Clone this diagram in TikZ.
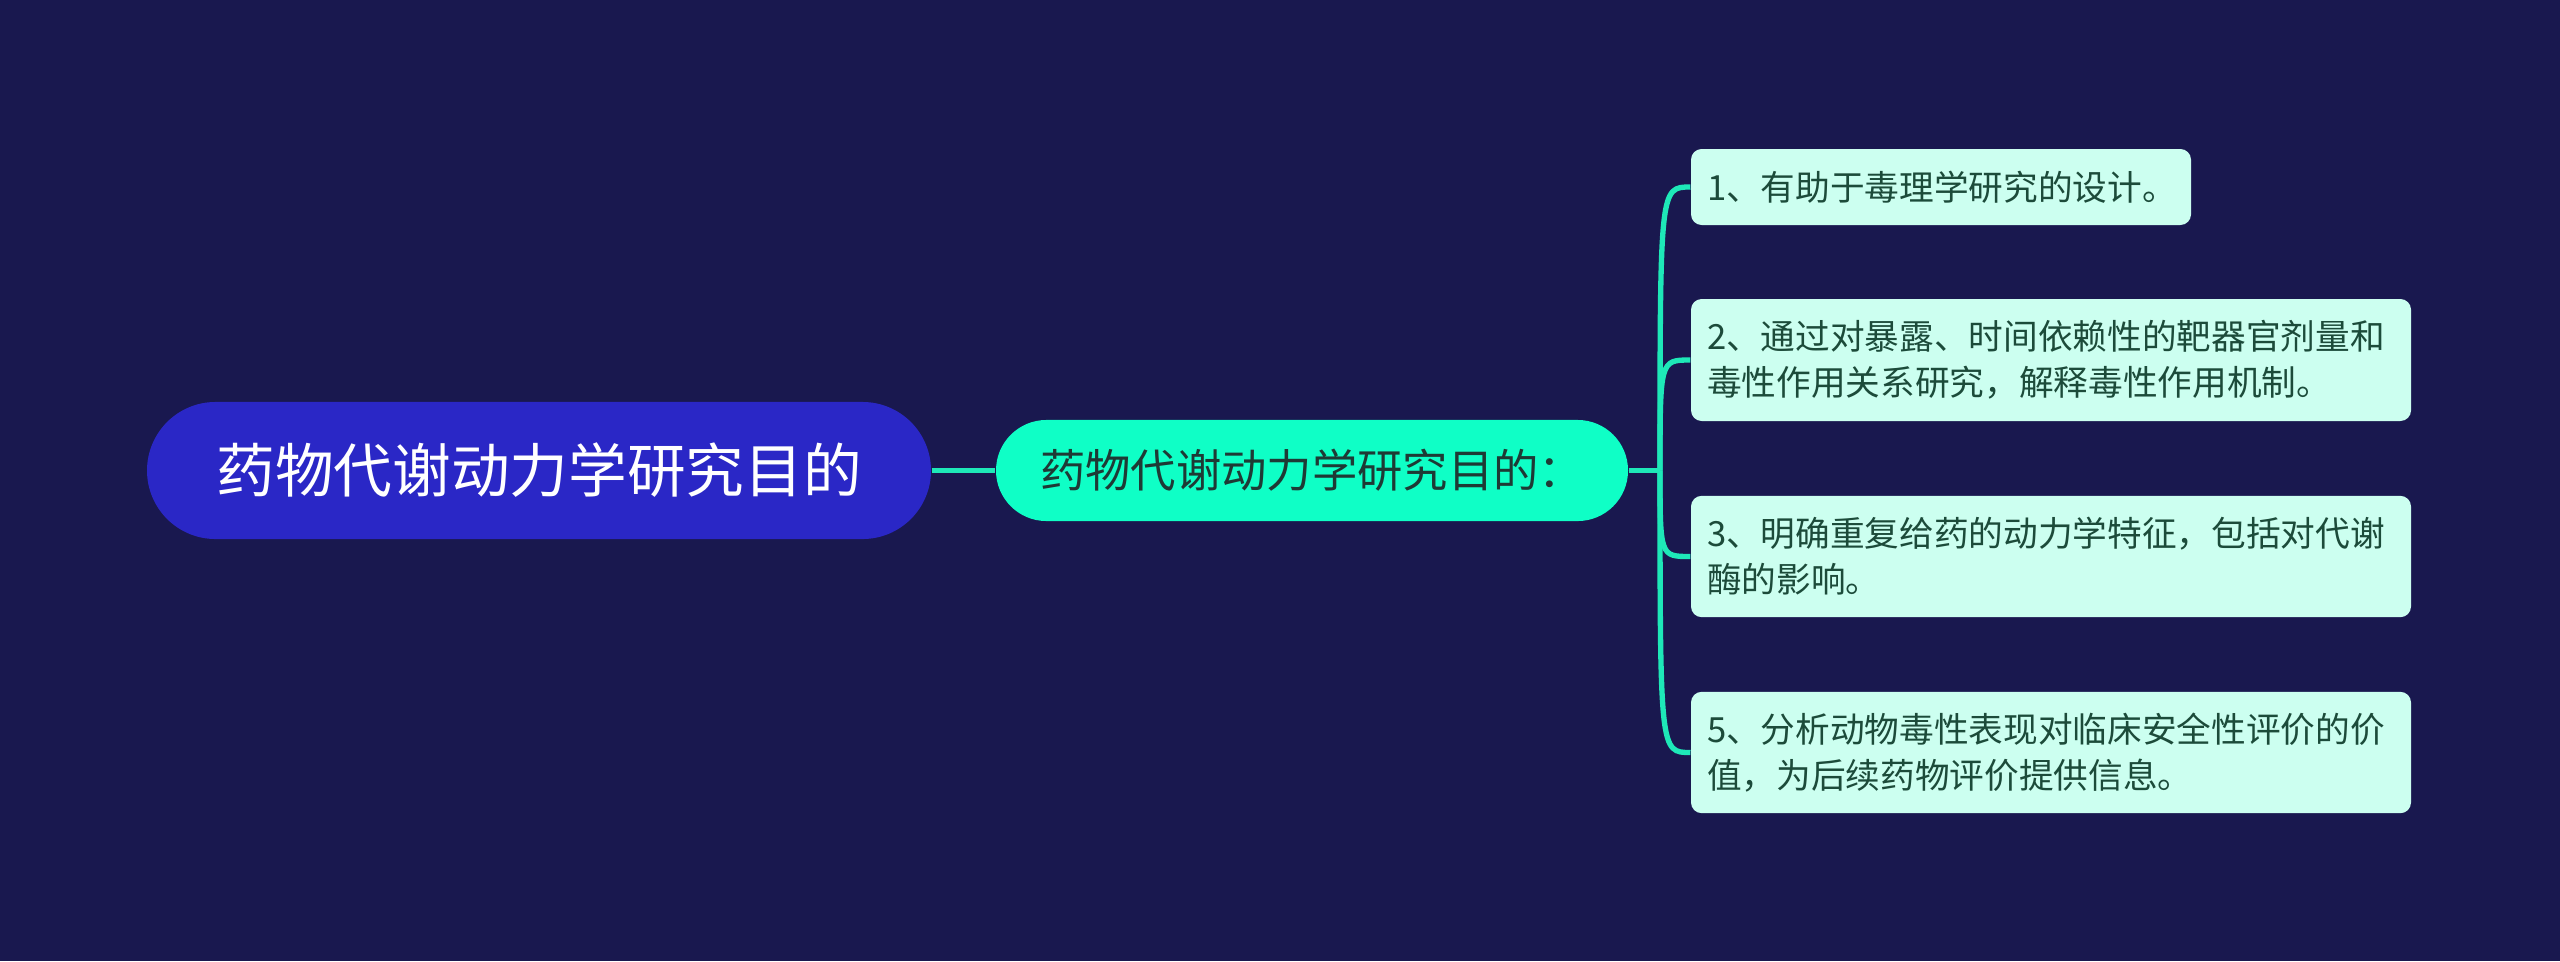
\documentclass[tikz,border=0pt]{standalone}
\usepackage{fontspec}
\setmainfont{Noto Sans CJK SC}
\definecolor{bgc}{HTML}{19184F}
\definecolor{rootc}{HTML}{2A27C6}
\definecolor{midc}{HTML}{0FFFC6}
\definecolor{leafc}{HTML}{CCFFF0}
\definecolor{leaftext}{HTML}{1C4B3A}
\definecolor{midtext}{HTML}{1E3A35}
\definecolor{linec}{HTML}{1EE8B8}
\tikzset{
  rootbox/.style={fill=rootc, text=white, rounded corners=25.7pt, minimum width=294pt, minimum height=51.4pt, inner sep=0pt, font=\fontsize{22}{26}\selectfont},
  midbox/.style={fill=midc, text=midtext, rounded corners=18.9pt, minimum width=237pt, minimum height=37.9pt, inner sep=0pt, font=\fontsize{17}{20}\selectfont},
  leafbox/.style={fill=leafc, text=leaftext, rounded corners=4pt, inner xsep=6pt, inner ysep=0pt, align=left, font=\fontsize{13}{17.2}\selectfont},
  conn/.style={draw=linec, line width=2pt},
}
\begin{document}
\begin{tikzpicture}[x=0.375pt,y=-0.375pt]
\fill[bgc] (0,0) rectangle (2560,961);
\useasboundingbox (0,0) rectangle (2560,961);
\node[rootbox] (root) at (539,470.5) {药物代谢动力学研究目的};
\node[midbox] (mid) at (1312,470.5) {药物代谢动力学研究目的：};
\node[leafbox, text width=175.5pt, minimum height=28.5pt] (l1) at (1941,187) {1、有助于毒理学研究的设计。};
\node[leafbox, text width=258pt, minimum height=45.75pt] (l2) at (2051,360) {2、通过对暴露、时间依赖性的靶器官剂量和\\毒性作用关系研究，解释毒性作用机制。};
\node[leafbox, text width=258pt, minimum height=45.5pt] (l3) at (2051,556.5) {3、明确重复给药的动力学特征，包括对代谢\\酶的影响。};
\node[leafbox, text width=258pt, minimum height=45.5pt] (l4) at (2051,752.5) {5、分析动物毒性表现对临床安全性评价的价\\值，为后续药物评价提供信息。};
\coordinate (b) at (1660,470.5);
\draw[conn] (root.east) -- (mid.west);
\draw[conn] (mid.east) -- (b);
\foreach \l in {l1,l2,l3,l4}{
  \draw[conn] (b) .. controls (b |- \l.west) and (b |- \l.west) .. (\l.west);
}
\end{tikzpicture}
\end{document}
